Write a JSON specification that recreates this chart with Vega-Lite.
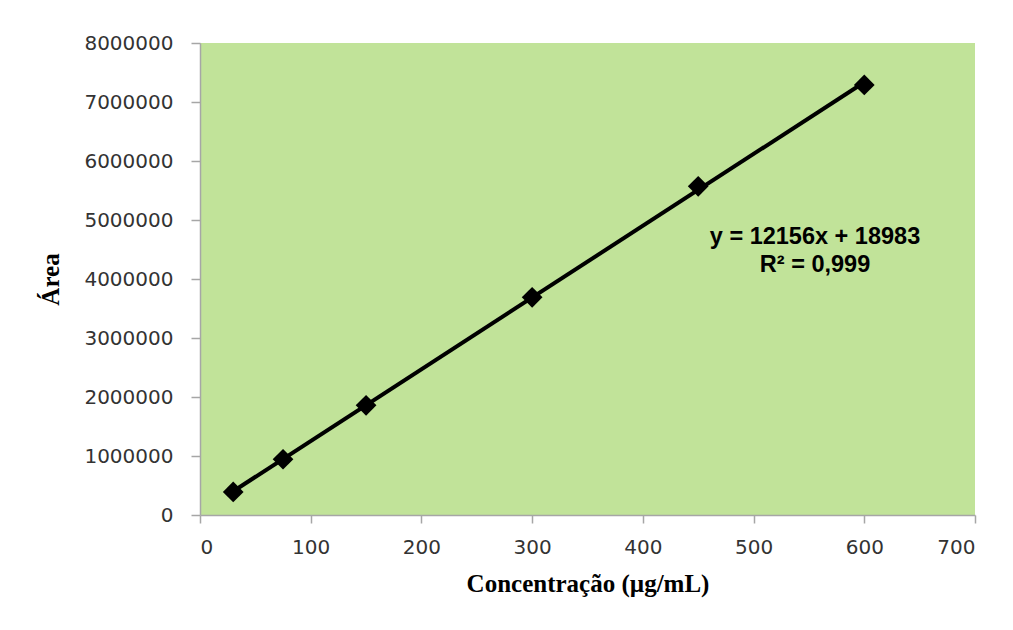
{
  "$schema": "https://vega.github.io/schema/vega-lite/v6.json",
  "autosize": {"type": "none"},
  "padding": {"left": 200, "top": 43, "right": 38, "bottom": 115},
  "width": 775,
  "height": 472,
  "background": "white",
  "config": {
    "view": {"fill": "#c1e399", "stroke": null},
    "axis": {
      "grid": false,
      "domainColor": "#a6a6a6",
      "domainWidth": 1.5,
      "tickColor": "#a6a6a6",
      "tickWidth": 1.5,
      "labelFont": "DejaVu Sans",
      "labelFontSize": 20,
      "labelColor": "#333333",
      "titleFont": "Liberation Serif",
      "titleFontSize": 25,
      "titleFontWeight": "bold",
      "titleColor": "#000000"
    }
  },
  "datasets": {
    "pts": [
      {"conc": 30, "area": 390000},
      {"conc": 75, "area": 945000},
      {"conc": 150, "area": 1860000},
      {"conc": 300, "area": 3690000},
      {"conc": 450, "area": 5570000},
      {"conc": 600, "area": 7290000}
    ],
    "notes": [
      {"conc": 555.5, "area": 4712000, "label": "y = 12156x + 18983"},
      {"conc": 555.5, "area": 4237000, "label": "R² = 0,999"}
    ]
  },
  "layer": [
    {
      "data": {"name": "pts"},
      "transform": [{"regression": "area", "on": "conc", "method": "linear", "extent": [30, 600]}],
      "mark": {"type": "line", "color": "#000000", "strokeWidth": 4},
      "encoding": {
        "x": {"field": "conc", "type": "quantitative"},
        "y": {"field": "area", "type": "quantitative"}
      }
    },
    {
      "data": {"name": "pts"},
      "mark": {"type": "point", "shape": "diamond", "filled": true, "color": "#000000", "size": 430, "opacity": 1},
      "encoding": {
        "x": {
          "field": "conc", "type": "quantitative",
          "scale": {"domain": [0, 700], "nice": false},
          "axis": {"values": [0, 100, 200, 300, 400, 500, 600, 700], "tickSize": 8, "labelPadding": 14, "title": "Concentração (µg/mL)", "titlePadding": 14}
        },
        "y": {
          "field": "area", "type": "quantitative",
          "scale": {"domain": [0, 8000000], "nice": false},
          "axis": {"values": [0, 1000000, 2000000, 3000000, 4000000, 5000000, 6000000, 7000000, 8000000], "format": "d", "tickSize": 9, "labelPadding": 18, "title": "Área", "titlePadding": 20}
        }
      }
    },
    {
      "data": {"name": "notes"},
      "mark": {"type": "text", "font": "Liberation Sans", "fontSize": 23.5, "fontWeight": "bold", "color": "#000000", "align": "center", "baseline": "middle"},
      "encoding": {
        "x": {"field": "conc", "type": "quantitative"},
        "y": {"field": "area", "type": "quantitative"},
        "text": {"field": "label"}
      }
    }
  ]
}
